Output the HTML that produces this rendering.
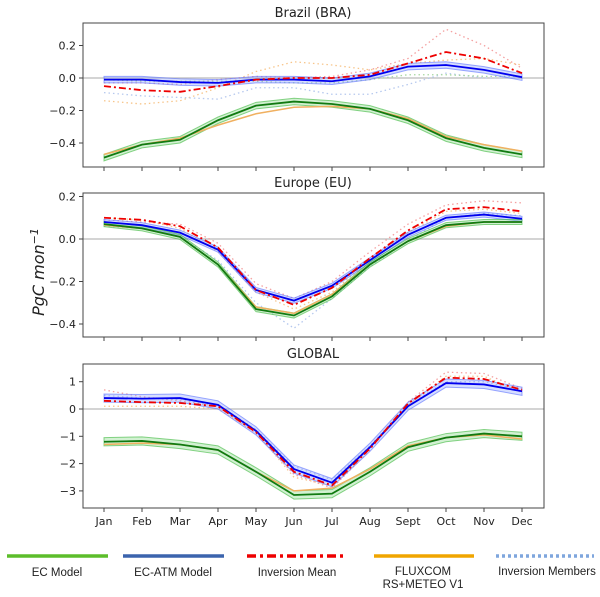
<!DOCTYPE html>
<html><head><meta charset="utf-8">
<style>
body{margin:0;background:#fff;width:600px;height:592px;overflow:hidden;font-family:"Liberation Sans","DejaVu Sans",sans-serif}
#chart text{font-family:"DejaVu Sans","Liberation Sans",sans-serif}
#legend text{font-family:"Liberation Sans","DejaVu Sans",sans-serif}
</style></head>
<body>
<svg id="chart" width="600" height="592" xmlns="http://www.w3.org/2000/svg"></svg>
<script>
const months=["Jan","Feb","Mar","Apr","May","Jun","Jul","Aug","Sept","Oct","Nov","Dec"];
// Brazil
const braEC=[-0.49,-0.41,-0.38,-0.26,-0.17,-0.145,-0.16,-0.19,-0.26,-0.37,-0.43,-0.47];
const braATM=[-0.01,-0.01,-0.025,-0.03,-0.01,-0.01,-0.02,0.01,0.07,0.08,0.05,0.005];
const braInv=[-0.05,-0.075,-0.085,-0.05,-0.01,0.0,0.0,0.02,0.09,0.16,0.12,0.03];
const braFlux=[-0.47,-0.41,-0.37,-0.29,-0.22,-0.18,-0.175,-0.19,-0.25,-0.36,-0.41,-0.45];
const braMemA=[-0.03,-0.03,-0.04,-0.01,0.01,0.0,0.01,0.05,0.12,0.30,0.20,0.06];
const braMemB=[-0.14,-0.16,-0.14,-0.06,0.04,0.10,0.08,0.05,0.09,0.11,0.12,0.08];
const braMemC=[-0.09,-0.11,-0.12,-0.13,-0.06,-0.06,-0.10,-0.10,-0.04,0.03,0.00,0.00];
const braMemD=[-0.01,-0.02,-0.02,-0.02,-0.02,-0.03,-0.03,-0.01,0.02,0.02,0.01,0.01];
// Europe
const euEC=[0.07,0.05,0.01,-0.12,-0.33,-0.36,-0.27,-0.12,-0.01,0.065,0.08,0.08];
const euATM=[0.08,0.065,0.03,-0.05,-0.24,-0.29,-0.22,-0.10,0.02,0.10,0.115,0.095];
const euInv=[0.10,0.09,0.06,-0.04,-0.24,-0.31,-0.23,-0.09,0.04,0.14,0.15,0.13];
const euFlux=[0.065,0.05,0.01,-0.12,-0.32,-0.35,-0.26,-0.12,-0.01,0.06,0.08,0.08];
const euMemA=[0.09,0.08,0.07,-0.02,-0.21,-0.28,-0.20,-0.06,0.07,0.16,0.18,0.17];
const euMemB=[0.10,0.09,0.05,-0.06,-0.25,-0.33,-0.25,-0.10,0.03,0.13,0.14,0.12];
const euMemC=[0.06,0.05,0.01,-0.10,-0.30,-0.42,-0.28,-0.13,-0.01,0.10,0.12,0.11];
// Global
const glEC=[-1.2,-1.17,-1.3,-1.5,-2.3,-3.15,-3.1,-2.3,-1.4,-1.05,-0.9,-1.0];
const glATM=[0.4,0.38,0.4,0.15,-0.8,-2.2,-2.7,-1.4,0.1,0.95,0.9,0.65];
const glInv=[0.3,0.25,0.22,0.1,-0.85,-2.3,-2.8,-1.45,0.2,1.15,1.1,0.7];
const glFlux=[-1.3,-1.25,-1.3,-1.5,-2.3,-3.0,-2.9,-2.2,-1.35,-1.05,-0.95,-1.1];
const glMemA=[0.7,0.45,0.3,0.1,-0.9,-2.4,-2.9,-1.5,0.25,1.35,1.3,0.75];
const glMemB=[0.1,0.1,0.1,0.0,-0.85,-2.5,-2.8,-1.4,0.15,1.2,1.2,0.6];
const glMemC=[0.5,0.4,0.35,0.15,-0.75,-2.1,-2.6,-1.35,0.15,1.0,1.0,0.7];
const braTicks=[0.2,0.0,-0.2,-0.4];
const euTicks=[0.2,0.0,-0.2,-0.4];
const glTicks=[1,0,-1,-2,-3];

const NS="http://www.w3.org/2000/svg";
const svg=document.getElementById('chart');
function el(t,a,p){const e=document.createElementNS(NS,t);for(const k in a)e.setAttribute(k,a[k]);(p||svg).appendChild(e);return e;}
const X0=83,X1=544;
function xs(i){return 104+i*38;}

function panel(cfg){
  const g=el('g',{});
  
  
  const ys=v=>cfg.y0-(v-cfg.v0)*cfg.k;
  const t=el('text',{x:313,y:cfg.top-6,'text-anchor':'middle','font-size':13,fill:'#222'},g);
  t.textContent=cfg.title;
  
  
  const zl=el('line',{x1:X0,x2:X1,y1:ys(0),y2:ys(0),stroke:'#bbb','stroke-width':1.2},g);
  
  
  const pts=a=>a.map((v,i)=>xs(i)+','+ys(v)).join(' ');
  function band(a,w,fill,stroke,nm){
    const up=a.map((v,i)=>xs(i)+','+ys(v+w));
    const dn=a.map((v,i)=>xs(i)+','+ys(v-w)).reverse();
    const p=el('polygon',{points:up.concat(dn).join(' '),fill:fill,'fill-opacity':0.35,stroke:stroke,'stroke-opacity':0.6,'stroke-width':1},g);
    
    
  }
  const memCols=['#f4a0a0','#f7c58a','#b5c8ee','#a8d8a0'];
  cfg.mem.forEach((m,j)=>{
    const l=el('polyline',{points:pts(m),fill:'none',stroke:memCols[j%4],'stroke-width':1.3,'stroke-dasharray':'1.5 3'},g);
    
    
  });
  band(cfg.atm,cfg.w,'#8aa0ff','#5a70ff',cfg.name+'-ec-atm-band');
  band(cfg.ec,cfg.w,'#7fd67f','#3cb83c',cfg.name+'-ec-band');
  const lf=el('polyline',{points:pts(cfg.flux),fill:'none',stroke:'#f0b060','stroke-width':1.5},g);
  
  
  const le=el('polyline',{points:pts(cfg.ec),fill:'none',stroke:'#117a11','stroke-width':1.8},g);
  
  
  const la=el('polyline',{points:pts(cfg.atm),fill:'none',stroke:'#0000ee','stroke-width':1.8},g);
  
  
  const li=el('polyline',{points:pts(cfg.inv),fill:'none',stroke:'#ee0000','stroke-width':1.8,'stroke-dasharray':'7 3 2 3'},g);
  
  
  const fr=el('rect',{x:X0,y:cfg.top,width:X1-X0,height:cfg.bot-cfg.top,fill:'none',stroke:'#444','stroke-width':1},g);
  
  
  cfg.ticks.forEach(v=>{
    el('line',{x1:X0-4,x2:X0,y1:ys(v),y2:ys(v),stroke:'#444'},g);
    const tt=el('text',{x:X0-7,y:ys(v)+4,'text-anchor':'end','font-size':11,fill:'#222'},g);
    tt.textContent=cfg.fmt(v);
    
    
  });
  months.forEach((m,i)=>{
    el('line',{x1:xs(i),x2:xs(i),y1:cfg.bot,y2:cfg.bot+4,stroke:'#444'},g);
    if(cfg.labels){
      const tt=el('text',{x:xs(i),y:cfg.bot+17,'text-anchor':'middle','font-size':11,fill:'#222'},g);
      tt.textContent=m;
      
      
    }
  });
}
const f1=v=>(v===0?'0.0':v.toFixed(1)).replace('-','\u2212');
panel({name:'brazil',title:'Brazil (BRA)',top:23,bot:167,y0:78,v0:0,k:162.5,ticks:braTicks,fmt:f1,w:0.02,
  ec:braEC,atm:braATM,inv:braInv,flux:braFlux,mem:[braMemA,braMemB,braMemC,braMemD]});
panel({name:'europe',title:'Europe (EU)',top:193,bot:337,y0:239,v0:0,k:212.5,ticks:euTicks,fmt:f1,w:0.012,
  ec:euEC,atm:euATM,inv:euInv,flux:euFlux,mem:[euMemA,euMemB,euMemC]});
panel({name:'global',title:'GLOBAL',top:364,bot:508,y0:409,v0:0,k:27.3,ticks:glTicks,fmt:v=>String(v).replace('-','\u2212'),w:0.15,labels:true,
  ec:glEC,atm:glATM,inv:glInv,flux:glFlux,mem:[glMemA,glMemB,glMemC]});
</script>
<svg id="legend" style="position:absolute;left:0;top:0" width="600" height="592" xmlns="http://www.w3.org/2000/svg">
<text transform="translate(44,272) rotate(-90)" text-anchor="middle" font-size="16" font-style="italic" fill="#222" style="font-family:'DejaVu Sans',sans-serif">PgC mon<tspan font-size="11" dy="-6">−1</tspan></text>
<g font-size="11.5" fill="#222" text-anchor="middle">
<line x1="7" x2="108" y1="556" y2="556" stroke="#5cbd2a" stroke-width="3.5"/>
<text x="57" y="576">EC Model</text>
<line x1="123" x2="224" y1="556" y2="556" stroke="#3b64ad" stroke-width="3.5"/>
<text x="173" y="576">EC-ATM Model</text>
<line x1="247" x2="346" y1="556" y2="556" stroke="#ee0000" stroke-width="3.5" stroke-dasharray="9 4 3 4"/>
<text x="297" y="576">Inversion Mean</text>
<line x1="374" x2="474" y1="556" y2="556" stroke="#f0a500" stroke-width="3.5"/>
<text x="423" y="575">FLUXCOM</text>
<text x="423" y="588">RS+METEO V1</text>
<line x1="496" x2="594" y1="556" y2="556" stroke="#7fa6dd" stroke-width="3.5" stroke-dasharray="3 3"/>
<text x="547" y="575">Inversion Members</text>
</g>
</svg>
</body></html>
